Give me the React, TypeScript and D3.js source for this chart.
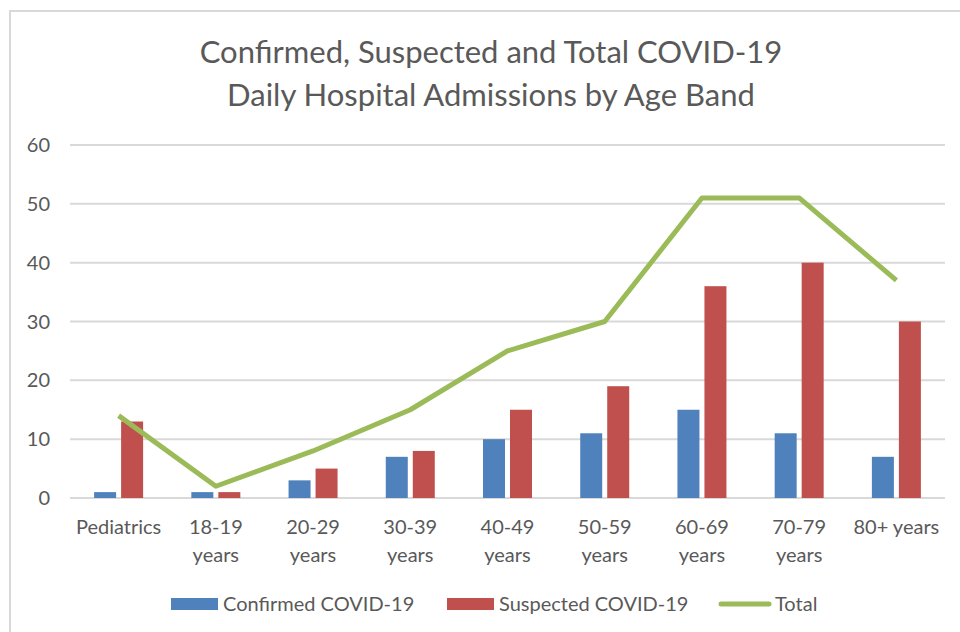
import React from 'react';
import * as d3 from 'd3';

const categories = ['Pediatrics', '18-19 years', '20-29 years', '30-39 years', '40-49 years', '50-59 years', '60-69 years', '70-79 years', '80+ years'];
const categoryLines = [['Pediatrics'], ['18-19', 'years'], ['20-29', 'years'], ['30-39', 'years'], ['40-49', 'years'], ['50-59', 'years'], ['60-69', 'years'], ['70-79', 'years'], ['80+ years']];
const confirmed = [1, 1, 3, 7, 10, 11, 15, 11, 7];
const suspected = [13, 1, 5, 8, 15, 19, 36, 40, 30];
const total = [14, 2, 8, 15, 25, 30, 51, 51, 37];
const yTicks = [0, 10, 20, 30, 40, 50, 60];

const BLUE = '#4F81BD';
const RED = '#C0504D';
const GREEN = '#9BBB59';
const TEXT = '#595959';
const FONT = 'Lato, "Open Sans", sans-serif';

export default function App() {
  const width = 960;
  const height = 632;
  const x = d3.scaleBand<string>().domain(categories).range([70, 945]);
  const y = d3.scaleLinear().domain([0, 60]).range([498, 145]);
  const barW = 22;
  const gap = 5;

  const line = d3.line<number>()
    .x((_, i) => (x(categories[i]) as number) + x.bandwidth() / 2)
    .y(d => y(d));

  return (
    <svg width={width} height={height} style={{ position: 'absolute', left: 0, top: 0 }} fontFamily={FONT}>
      <rect x={0} y={0} width={width} height={height} fill="#fff" />
      <rect x={10} y={11} width={width} height={height} fill="none" stroke="#d9d9d9" strokeWidth={2} />
      <text x={491} y={63} textAnchor="middle" fontSize={31} fill={TEXT}>Confirmed, Suspected and Total COVID-19</text>
      <text x={491} y={106} textAnchor="middle" fontSize={31} fill={TEXT}>Daily Hospital Admissions by Age Band</text>

      {yTicks.map(t => (
        <g key={t}>
          <line x1={70} x2={945} y1={y(t)} y2={y(t)} stroke="#d9d9d9" strokeWidth={2} />
          <text x={50} y={y(t) + 7} textAnchor="end" fontSize={20} fill={TEXT}>{t}</text>
        </g>
      ))}

      {categories.map((c, i) => {
        const cx = (x(c) as number) + x.bandwidth() / 2;
        return (
          <g key={c}>
            <rect x={cx - gap / 2 - barW} y={y(confirmed[i])} width={barW} height={y(0) - y(confirmed[i])} fill={BLUE} />
            <rect x={cx + gap / 2} y={y(suspected[i])} width={barW} height={y(0) - y(suspected[i])} fill={RED} />
            {categoryLines[i].map((l, j) => (
              <text key={j} x={cx} y={534 + j * 28} textAnchor="middle" fontSize={20} fill={TEXT}>{l}</text>
            ))}
          </g>
        );
      })}

      <path d={line(total) as string} fill="none" stroke={GREEN} strokeWidth={5} strokeLinejoin="round" />

      <rect x={171} y={598} width={47} height={12} fill={BLUE} />
      <text x={223} y={611} fontSize={20} fill={TEXT}>Confirmed COVID-19</text>
      <rect x={447} y={598} width={47} height={12} fill={RED} />
      <text x={499} y={611} fontSize={20} fill={TEXT}>Suspected COVID-19</text>
      <line x1={721} x2={769} y1={604} y2={604} stroke={GREEN} strokeWidth={5} strokeLinecap="round" />
      <text x={775} y={611} fontSize={20} fill={TEXT}>Total</text>
    </svg>
  );
}
